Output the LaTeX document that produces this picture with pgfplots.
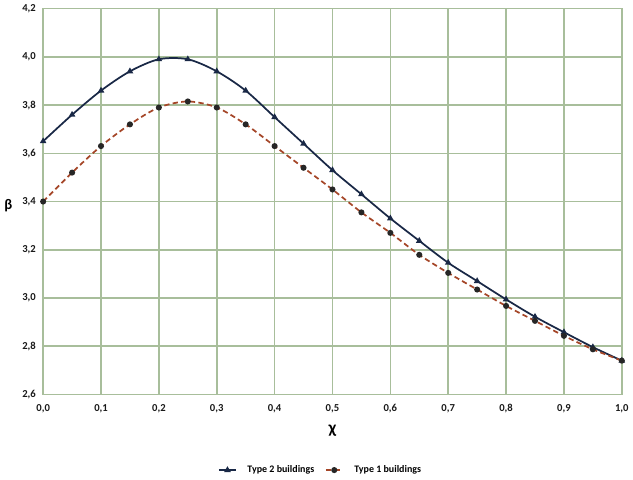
\documentclass[border=0pt]{standalone}
\usepackage{pgfplots}
\pgfplotsset{compat=1.18}
\usepackage{fontspec}
\setmainfont{Carlito}
\definecolor{gridgreen}{RGB}{168,190,155}
\definecolor{navy}{RGB}{25,40,70}
\definecolor{brownred}{RGB}{165,70,40}
\begin{document}
\begin{tikzpicture}
\begin{axis}[
  scale only axis,
  width=435pt, height=290pt,
  xmin=0, xmax=1, ymin=2.6, ymax=4.2,
  xtick={0,0.1,...,1.0}, ytick={2.6,2.8,...,4.21},
  grid=major,
  major grid style={gridgreen, line width=1.2pt},
  axis line style={gridgreen, line width=1.2pt},
  tick style={draw=none},
  /pgf/number format/.cd, use comma, fixed, fixed zerofill, precision=1, assume math mode=true,
  /pgfplots/.cd,
  ticklabel style={font=\bfseries\fontsize{8}{9}\selectfont, text=black!90},
  xticklabel style={yshift=-4pt},
  yticklabel style={xshift=-2pt},
  xlabel={\bfseries\fontsize{13}{13}\selectfont χ},
  ylabel={\bfseries\fontsize{11}{11}\selectfont β},
  ylabel style={rotate=-90, at={(axis description cs:-0.045,0.49)}, anchor=east},
  xlabel style={yshift=-2pt},
  legend columns=2,
  legend style={at={(0.48,-0.17)}, anchor=north, draw=none, font=\bfseries\fontsize{7.5}{8}\selectfont, column sep=6pt},
  legend cell align=left,
  legend image code/.code={\draw[#1] (0cm,0cm) -- (0.45cm,0cm); \draw[#1, only marks] plot coordinates {(0.225cm,0cm)};},
]
\addplot[navy, line width=1.3pt, smooth, mark=triangle*, mark size=1.6pt, mark options={solid, fill=navy}] coordinates {
(0,3.65) (0.05,3.76) (0.1,3.86) (0.15,3.94) (0.2,3.99) (0.25,3.99) (0.3,3.94) (0.35,3.86) (0.4,3.75) (0.45,3.64) (0.5,3.53) (0.55,3.43) (0.6,3.33) (0.65,3.237) (0.7,3.146) (0.75,3.07) (0.8,2.994) (0.85,2.922) (0.9,2.858) (0.95,2.796) (1.0,2.74)};
\addlegendentry{Type 2 buildings}
\addplot[brownred, line width=1.3pt, dash pattern=on 4pt off 2.5pt, smooth, mark=*, mark size=1.6pt, mark options={solid, fill=black!85, draw=black!85}] coordinates {
(0,3.40) (0.05,3.52) (0.1,3.63) (0.15,3.72) (0.2,3.79) (0.25,3.815) (0.3,3.79) (0.35,3.72) (0.4,3.63) (0.45,3.54) (0.5,3.45) (0.55,3.355) (0.6,3.27) (0.65,3.179) (0.7,3.104) (0.75,3.035) (0.8,2.967) (0.85,2.905) (0.9,2.843) (0.95,2.787) (1.0,2.74)};
\addlegendentry{Type 1 buildings}
\end{axis}
\end{tikzpicture}
\end{document}
